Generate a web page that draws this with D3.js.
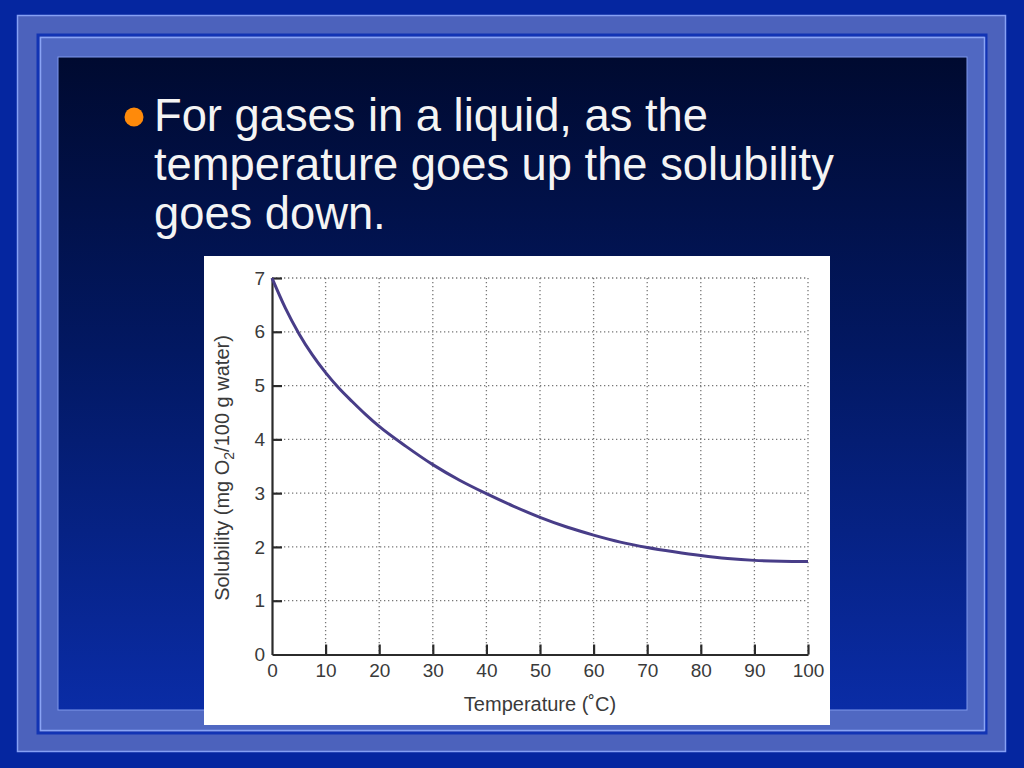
<!DOCTYPE html>
<html>
<head>
<meta charset="utf-8">
<script src="https://cdn.jsdelivr.net/npm/d3@7"></script>
<style>
  html, body { margin: 0; padding: 0; background: #0a28a0; }
  svg { display: block; }
</style>
</head>
<body>
<svg id="chart" width="1024" height="768"></svg>
<script>
// ---- data ----
const temperatures = [0, 2.5, 5, 7.5, 10, 12.5, 15, 17.5, 20, 25, 30, 35, 40, 45, 50, 55, 60, 65, 70, 75, 80, 85, 90, 95, 100];
const solubility   = [7.0, 6.44, 5.97, 5.575, 5.24, 4.95, 4.70, 4.46, 4.24, 3.87, 3.53, 3.24, 2.99, 2.76, 2.55, 2.37, 2.22, 2.09, 1.99, 1.91, 1.84, 1.785, 1.75, 1.735, 1.73];
const xTicks = [0, 10, 20, 30, 40, 50, 60, 70, 80, 90, 100];
const yTicks = [0, 1, 2, 3, 4, 5, 6, 7];
const bulletLines = ["For gases in a liquid, as the", "temperature goes up the solubility", "goes down."];
const xTitle = "Temperature (˚C)";
const yTitleParts = ["Solubility (mg O", "2", "/100 g water)"];

const svg = d3.select("#chart");
const defs = svg.append("defs");
const grad = defs.append("linearGradient").attr("id", "inner").attr("x1", 0).attr("y1", 0).attr("x2", 0).attr("y2", 1);
grad.append("stop").attr("offset", 0).attr("stop-color", "#000a30");
grad.append("stop").attr("offset", 0.45).attr("stop-color", "#021862");
grad.append("stop").attr("offset", 1).attr("stop-color", "#0a2ca6");

// ---- slide frame ----
svg.append("rect").attr("x", 0).attr("y", 0).attr("width", 1024).attr("height", 768).attr("fill", "#0526a0");
svg.append("rect").attr("x", 17.5).attr("y", 15.5).attr("width", 988).attr("height", 736)
  .attr("fill", "#4c62bc").attr("stroke", "#86a0f4").attr("stroke-width", 1.5);
svg.append("rect").attr("x", 38).attr("y", 35).attr("width", 948).attr("height", 698)
  .attr("fill", "none").attr("stroke", "#1234b4").attr("stroke-width", 3);
svg.append("rect").attr("x", 40.5).attr("y", 37.5).attr("width", 944).attr("height", 693)
  .attr("fill", "#5068c2").attr("stroke", "#8aa4f4").attr("stroke-width", 1.5);
svg.append("rect").attr("x", 58).attr("y", 57).attr("width", 909).attr("height", 653)
  .attr("fill", "url(#inner)").attr("stroke", "#7f98ec").attr("stroke-width", 1);

// ---- bullet text ----
svg.append("circle").attr("cx", 134).attr("cy", 117).attr("r", 9.5).attr("fill", "#ff8a0a");
svg.append("g").selectAll("text").data(bulletLines).join("text")
  .attr("x", 154)
  .attr("y", (d, i) => 131 + i * 49)
  .attr("fill", "#f4f4f4")
  .attr("font-family", "Liberation Sans, Arial, sans-serif")
  .attr("font-size", 45.3)
  .text(d => d);

// ---- chart panel ----
svg.append("rect").attr("x", 204).attr("y", 256).attr("width", 626).attr("height", 469).attr("fill", "#ffffff");

const x = d3.scaleLinear().domain([0, 100]).range([272, 808]);
const y = d3.scaleLinear().domain([0, 7]).range([654.5, 278]);

// grid
const grid = svg.append("g").attr("stroke", "#777").attr("stroke-width", 1.3).attr("stroke-dasharray", "1.3,2.7");
grid.selectAll("line.v").data(xTicks.filter(d => d > 0)).join("line").attr("class", "v")
  .attr("x1", d => x(d)).attr("x2", d => x(d)).attr("y1", y(7)).attr("y2", y(0));
grid.selectAll("line.h").data(yTicks.filter(d => d > 0)).join("line").attr("class", "h")
  .attr("x1", x(0)).attr("x2", x(100)).attr("y1", d => y(d)).attr("y2", d => y(d));

// axes
const font = "Liberation Sans, Arial, sans-serif";
const xAxis = svg.append("g").attr("transform", `translate(0,${y(0)})`)
  .call(d3.axisBottom(x).tickValues(xTicks).tickFormat(d3.format("d")).tickSizeInner(-10).tickSizeOuter(0).tickPadding(9));
const yAxis = svg.append("g").attr("transform", `translate(${x(0)},0)`)
  .call(d3.axisLeft(y).tickValues(yTicks).tickFormat(d3.format("d")).tickSizeInner(-10).tickSizeOuter(0).tickPadding(7));
[xAxis, yAxis].forEach(g => {
  g.select(".domain").attr("stroke", "#2b2b2b").attr("stroke-width", 2.2);
  g.selectAll(".tick line").attr("stroke", "#2b2b2b").attr("stroke-width", 2.2);
  g.selectAll(".tick text").attr("fill", "#3a3a3a").attr("font-family", font).attr("font-size", 19);
});
yAxis.selectAll(".tick").filter(d => d === 0).select("line").remove();
xAxis.selectAll(".tick").filter(d => d === 0).select("line").remove();

// curve
const pts = temperatures.map((t, i) => [t, solubility[i]]);
svg.append("path").datum(pts)
  .attr("fill", "none").attr("stroke", "#483d88").attr("stroke-width", 3)
  .attr("d", d3.line().x(d => x(d[0])).y(d => y(d[1])).curve(d3.curveMonotoneX));

// titles
svg.append("text").attr("x", 540).attr("y", 711).attr("text-anchor", "middle")
  .attr("fill", "#3a3a3a").attr("font-family", font).attr("font-size", 20).text(xTitle);
const yt = svg.append("text").attr("transform", `translate(229,468) rotate(-90)`).attr("text-anchor", "middle")
  .attr("fill", "#3a3a3a").attr("font-family", font).attr("font-size", 20);
yt.append("tspan").text(yTitleParts[0]);
yt.append("tspan").attr("dy", 5).attr("font-size", 14).text(yTitleParts[1]);
yt.append("tspan").attr("dy", -5).text(yTitleParts[2]);
</script>
</body>
</html>
